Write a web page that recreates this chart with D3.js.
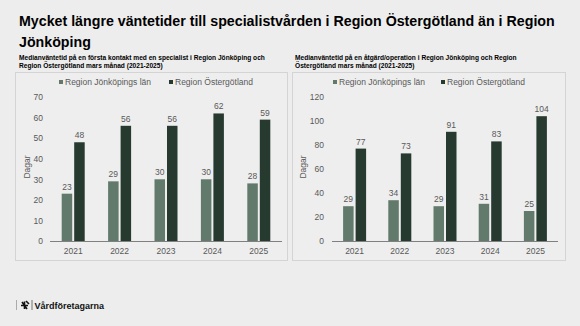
<!DOCTYPE html>
<html><head><meta charset="utf-8">
<script src="https://cdn.jsdelivr.net/npm/d3@7"></script>
<style>
html,body{margin:0;padding:0;background:#ededed;}
svg{display:block;font-family:"Liberation Sans",Arial,sans-serif;}
</style></head>
<body>
<svg id="c" width="580" height="326"></svg>
<script>
const years = ["2021","2022","2023","2024","2025"];
const seriesNames = ["Region Jönköpings län","Region Östergötland"];
const kontaktJonkoping = [23,29,30,30,28];
const kontaktOstergotland = [48,56,56,62,59];
const operationJonkoping = [29,34,29,31,25];
const operationOstergotland = [77,73,91,83,104];
const kontaktTicks = [0,10,20,30,40,50,60,70];
const operationTicks = [0,20,40,60,80,100,120];
const titleLines = ["Mycket längre väntetider till specialistvården i Region Östergötland än i Region","Jönköping"];
const sub1 = ["Medianväntetid på en första kontakt med en specialist i Region Jönköping och","Region Östergötland mars månad (2021-2025)"];
const sub2 = ["Medianväntetid på en åtgärd/operation i Region Jönköping och Region","Östergötland mars månad (2021-2025)"];
const colors = ["#627a6b","#263a30"];
const grey = "#595959";

const svg = d3.select("#c");
svg.append("rect").attr("width",580).attr("height",326).attr("fill","#ededed");

const t = svg.append("text").attr("x",19).attr("font-size",16).attr("font-weight","bold").attr("fill","#000");
const tspans = titleLines.map((l,i)=>t.append("tspan").attr("x",19).attr("y",26+i*21).text(l));
const w0 = tspans[0].node().getComputedTextLength();
t.attr("font-size", 16*536/w0);

function panel(opt){
  const g = svg.append("g");
  const st = g.append("text").attr("font-size",6.6).attr("font-weight","bold").attr("fill","#000");
  opt.sub.forEach((l,i)=>st.append("tspan").attr("x",opt.subX).attr("y",59.5+i*8.5).text(l));
  g.append("rect").attr("x",opt.box[0]+0.5).attr("y",72.5).attr("width",opt.box[1]-opt.box[0]).attr("height",188)
    .attr("fill","#eeeeee").attr("stroke","#d4d4d4").attr("stroke-width",1);
  const x = d3.scaleBand().domain(years).range(opt.xr);
  const y = d3.scaleLinear().domain([0,opt.max]).range([241,97]);
  const bw = 10.5, gap = 2;
  const data = years.map((yr,i)=>({yr, vals:[opt.a[i],opt.b[i]]}));
  data.forEach(d=>{
    d.vals.forEach((v,k)=>{
      const cx = x(d.yr)+x.bandwidth()/2;
      const bx = k===0 ? cx-gap/2-bw : cx+gap/2;
      g.append("rect").attr("x",bx).attr("y",y(v)).attr("width",bw).attr("height",y(0)-y(v)).attr("fill",colors[k]);
      g.append("text").attr("x",bx+bw/2).attr("y",y(v)-4).attr("text-anchor","middle")
        .attr("font-size",8.5).attr("fill",grey).text(v);
    });
  });
  const ya = d3.axisLeft(y).tickValues(opt.ticks).tickSize(0).tickPadding(0);
  const yg = g.append("g").attr("transform",`translate(${opt.yLabelX},0)`).call(ya);
  yg.select(".domain").remove();
  yg.selectAll("text").attr("font-size",8.5).attr("fill",grey).attr("font-family","Liberation Sans, Arial, sans-serif");
  const xa = d3.axisBottom(x).tickSize(0).tickPadding(7);
  const xg = g.append("g").attr("transform","translate(0,241)").call(xa);
  xg.select(".domain").attr("stroke","#808080").attr("stroke-width",1).attr("d",`M${opt.xr[0]},0.5H${opt.xr[1]}`);
  xg.selectAll("text").attr("font-size",8.5).attr("fill",grey).attr("font-family","Liberation Sans, Arial, sans-serif");
  g.append("text").attr("transform",`translate(${opt.dagX},167) rotate(-90)`).attr("text-anchor","middle")
    .attr("font-size",8.5).attr("fill",grey).text("Dagar");
  seriesNames.forEach((n,k)=>{
    g.append("rect").attr("x",opt.leg[k]).attr("y",80).attr("width",4).attr("height",4).attr("fill",colors[k]);
    g.append("text").attr("x",opt.leg[k]+6).attr("y",85).attr("font-size",8.5).attr("fill",grey).text(n);
  });
}

panel({sub:sub1, subX:19, box:[15,287], xr:[50,282], max:70, ticks:kontaktTicks, a:kontaktJonkoping, b:kontaktOstergotland,
  yLabelX:43, dagX:30, leg:[59,169]});
panel({sub:sub2, subX:295, box:[292,565], xr:[332,558], max:120, ticks:operationTicks, a:operationJonkoping, b:operationOstergotland,
  yLabelX:324, dagX:306, leg:[333,441]});

const f = svg.append("g");
f.append("line").attr("x1",16.5).attr("x2",16.5).attr("y1",300).attr("y2",310).attr("stroke","#999").attr("stroke-width",0.8);
f.append("path").attr("d","M21,305.5 L28,305.5 M24.5,301.5 L24.5,309 M22,302 L27,309 M26,301 L29,304").attr("stroke","#111").attr("stroke-width",1.6).attr("fill","none");
f.append("line").attr("x1",32).attr("x2",32).attr("y1",300).attr("y2",310).attr("stroke","#555").attr("stroke-width",0.8);
f.append("text").attr("x",34.5).attr("y",308.5).attr("font-size",9).attr("font-weight","bold").attr("fill","#111").text("Vårdföretagarna");
</script>
</body></html>
